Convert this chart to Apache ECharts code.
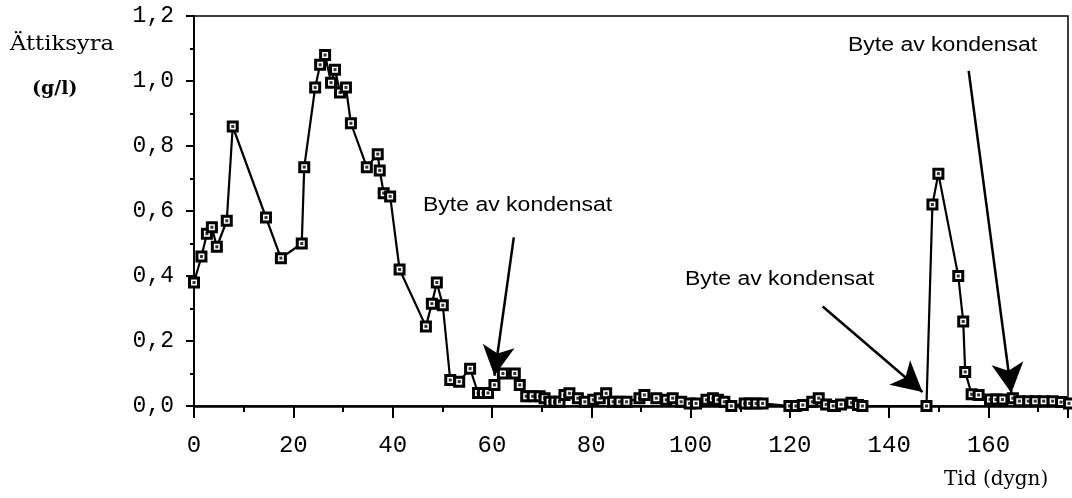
<!DOCTYPE html>
<html>
<head>
<meta charset="utf-8">
<script src="https://cdn.jsdelivr.net/npm/echarts@6/dist/echarts.min.js"></script>
<style>
  html, body { margin: 0; padding: 0; background: #fff; }
  #chart { width: 1072px; height: 498px; }
</style>
</head>
<body>
<div id="chart"></div>
<script>
// tid (dygn) och ättiksyra (g/l)
const days = [
  0, 1.5, 2.6, 3.6, 4.6, 6.6, 7.8, 14.5, 17.5, 21.7, 22.2, 24.4, 25.4, 26.4, 27.6, 28.4, 29.4, 30.6,
  31.6, 34.8, 37.0, 37.4, 38.2, 39.5, 41.4, 46.7, 47.9, 48.9, 50.1, 51.6, 53.4, 55.6, 57.2, 58.2, 59.2,
  60.5, 62.2, 64.6, 65.6, 66.9, 68.2, 69.6, 70.6, 71.6, 72.6, 73.6, 74.6, 75.6, 77.3, 78.7, 80.4,
  81.7, 83.0, 84.4, 85.7, 87.1, 89.7, 90.7, 93.1, 95.1, 96.4, 98.1, 99.8, 101.1, 103.2, 104.5, 105.5,
  106.8, 108.2, 110.9, 111.9, 113.2, 114.5, 119.9, 121.2, 122.6, 124.5, 125.8, 127.3, 128.7, 130.3,
  132.4, 133.7, 134.6, 147.5, 148.7, 149.9, 153.9, 154.9, 155.3, 156.6, 158.0, 160.3, 161.5, 162.8,
  164.9, 166.2, 168.0, 169.4, 171.1, 172.9, 174.6, 176.2
];
const acid = [
  0.38, 0.46, 0.53, 0.55, 0.49, 0.57, 0.86, 0.58, 0.455, 0.50, 0.735, 0.98, 1.05, 1.08, 0.995, 1.035, 0.965, 0.98,
  0.87, 0.735, 0.775, 0.725, 0.655, 0.645, 0.42, 0.245, 0.315, 0.38, 0.31, 0.08, 0.075, 0.115, 0.04, 0.04, 0.04,
  0.065, 0.10, 0.10, 0.065, 0.03, 0.03, 0.03, 0.024, 0.013, 0.013, 0.013, 0.034, 0.039, 0.024, 0.013, 0.019,
  0.024, 0.039, 0.013, 0.013, 0.013, 0.024, 0.034, 0.024, 0.019, 0.024, 0.013, 0.008, 0.008, 0.019, 0.024, 0.019,
  0.013, 0.0, 0.008, 0.008, 0.008, 0.008, 0.0, 0.0, 0.003, 0.013, 0.024, 0.005, 0.0, 0.005,
  0.01, 0.003, 0.0, 0.0, 0.62, 0.715, 0.40, 0.26, 0.105, 0.036, 0.034, 0.02, 0.02, 0.02,
  0.024, 0.015, 0.015, 0.015, 0.015, 0.015, 0.012, 0.008
];
const yTicks = ['0,0', '0,2', '0,4', '0,6', '0,8', '1,0', '1,2'];

// pilar: [start, spets] i dataenheter
const arrows = [
  [[64.4, 0.519], [60.5, 0.093]],
  [[126.6, 0.306], [146.7, 0.043]],
  [[156.0, 1.031], [164.6, 0.040]]
];
const noteText = 'Byte av kondensat';

const points = days.map((d, i) => [d, acid[i]]);

const chart = echarts.init(document.getElementById('chart'));

chart.setOption({
  animation: false,
  backgroundColor: '#fff',
  grid: {
    left: 194, right: 4, top: 16, bottom: 92,
    show: true, borderColor: '#000', borderWidth: 1.5
  },
  xAxis: {
    type: 'value',
    min: 0, max: 176, interval: 20,
    axisLine: { lineStyle: { color: '#000', width: 2.5 } },
    axisTick: { length: 12, lineStyle: { color: '#000', width: 2 } },
    minorTick: { show: true, splitNumber: 2, length: 6, lineStyle: { color: '#000', width: 2 } },
    splitLine: { show: false },
    axisLabel: {
      showMaxLabel: false,
      margin: 28,
      color: '#000',
      fontFamily: 'Liberation Mono',
      fontSize: 24
    }
  },
  yAxis: {
    type: 'value',
    min: 0, max: 1.2, interval: 0.2,
    axisLine: { lineStyle: { color: '#000', width: 2 } },
    axisTick: { length: 8, lineStyle: { color: '#000', width: 2 } },
    minorTick: { show: true, splitNumber: 2, length: 4, lineStyle: { color: '#000', width: 2 } },
    splitLine: { show: false },
    axisLabel: {
      margin: 20,
      color: '#000',
      fontFamily: 'Liberation Mono',
      fontSize: 23,
      padding: [6, 0, 0, 0],
      formatter: (v) => yTicks[Math.round(v / 0.2)]
    }
  },
  series: [
    {
      type: 'line',
      data: points,
      clip: false,
      z: 2,
      showSymbol: true,
      showAllSymbol: true,
      symbol: 'rect',
      symbolSize: 9,
      lineStyle: { color: '#000', width: 2.2 },
      itemStyle: { color: '#fff', borderColor: '#000', borderWidth: 3 },
      markLine: {
        silent: true,
        animation: false,
        label: { show: false },
        lineStyle: { color: '#000', width: 2.5, type: 'solid' },
        data: arrows.map(a => [
          { coord: a[0], symbol: 'none' },
          { coord: a[1], symbol: 'arrow', symbolSize: [24, 30] }
        ])
      }
    },
    {
      type: 'scatter',
      data: points,
      clip: false,
      z: 3,
      silent: true,
      symbol: 'rect',
      symbolSize: 3,
      itemStyle: { color: '#000' }
    }
  ],
  graphic: [
    { type: 'text', x: 10, y: 34, scaleX: 1.08,
      style: { text: 'Ättiksyra', fill: '#000', font: '21px "DejaVu Serif"' } },
    { type: 'text', x: 32, y: 80,
      style: { text: '(g/l)', fill: '#000', font: 'bold 19px "DejaVu Serif"' } },
    { type: 'text', left: 944, top: 470,
      style: { text: 'Tid (dygn)', fill: '#000', font: '20px "DejaVu Serif"' } },
    { type: 'text', x: 423, y: 205, scaleX: 1.15,
      style: { text: noteText, fill: '#000', font: '20px "Liberation Sans"', verticalAlign: 'middle' } },
    { type: 'text', x: 685, y: 279, scaleX: 1.15,
      style: { text: noteText, fill: '#000', font: '20px "Liberation Sans"', verticalAlign: 'middle' } },
    { type: 'text', x: 848, y: 45, scaleX: 1.15,
      style: { text: noteText, fill: '#000', font: '20px "Liberation Sans"', verticalAlign: 'middle' } }
  ]
});
</script>
</body>
</html>
